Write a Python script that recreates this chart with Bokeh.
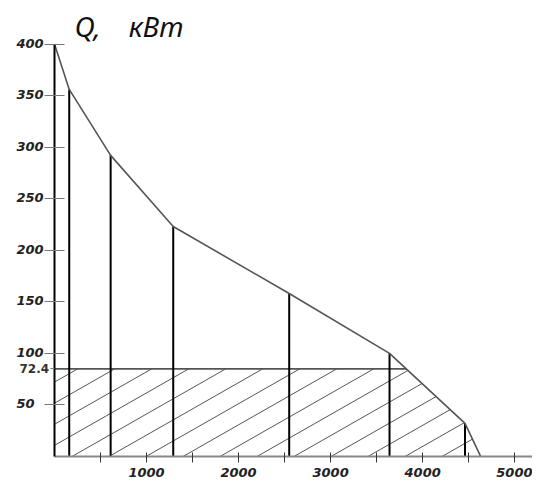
import numpy as np
from bokeh.plotting import figure
from bokeh.models import Range1d, LinearAxis, FixedTicker, Label, ColumnDataSource
from bokeh.core.properties import value
from bokeh.embed import file_html
from bokeh.resources import INLINE

# ---- data ----
hours = [0, 160, 610, 1290, 2550, 3640, 4460, 4630]          # x, h
load_kw = [400, 356, 292, 223, 158, 100, 32, 0]               # Q, kW
base_level_drawn = 85          # where the base-load line is drawn in the picture
base_level_label = "72.4"      # its label
y_ticks = [50, 100, 150, 200, 250, 300, 350, 400]
y_tick_labels = ["50", "100", "150", "200", "250", "300", "350", "400"]
x_ticks = [1000, 2000, 3000, 4000, 5000]
x_minor_ticks = [500, 1500, 2500, 3500, 4500]
title_text = "Q,\u2003кВт"

W, H = 532, 481
# pixel mapping: x_px = 54 + 0.09204*x ; y_px = 455.9 - 1.031*Q
x_lo, x_hi = -586.7, 5193.4
y_lo, y_hi = -24.3, 442.2

p = figure(width=W, height=H, output_backend="svg", toolbar_location=None,
           x_range=Range1d(x_lo, x_hi), y_range=Range1d(y_lo, y_hi),
           x_axis_location=None, y_axis_location=None, min_border=0)
p.outline_line_color = None
p.grid.visible = False
p.background_fill_color = "white"

FONT = value("DejaVu Sans")

# ---- hatch lines (computed from the data boundary) ----
sx = W / (x_hi - x_lo)
sy = H / (y_hi - y_lo)
slope_px = 0.57
k = slope_px * sx / sy
spacing = 37 / sx
phase = 1397
grid = np.linspace(0, hours[-1], 6000)
upper = np.minimum(np.interp(grid, hours, load_kw), base_level_drawn)
hx0, hy0, hx1, hy1 = [], [], [], []
for n in range(-20, 20):
    x0 = phase + n * spacing
    if x0 >= hours[-1] or x0 <= -base_level_drawn / k:
        continue
    xs = max(0.0, x0)
    ys = k * (xs - x0)
    line = k * (grid - x0)
    ok = (grid >= xs) & (line >= upper)
    if not ok.any():
        continue
    i = int(np.argmax(ok))
    if i == 0:
        continue
    d0 = line[i - 1] - upper[i - 1]
    d1 = line[i] - upper[i]
    t = d0 / (d0 - d1) if d0 != d1 else 0
    xe = grid[i - 1] + t * (grid[i] - grid[i - 1])
    ye = k * (xe - x0)
    hx0.append(xs); hy0.append(ys); hx1.append(xe); hy1.append(ye)
p.segment(x0=hx0, y0=hy0, x1=hx1, y1=hy1, line_color="#555555", line_width=1)

# ---- base-load line ----
cross_x = float(np.interp(-base_level_drawn, [-v for v in load_kw], hours))
p.segment(x0=[0], y0=[base_level_drawn], x1=[cross_x], y1=[base_level_drawn],
          line_color="#555555", line_width=1.8)

# ---- vertical lines at each step ----
vsrc = ColumnDataSource(dict(x=hours[1:-1], y0=[0] * (len(hours) - 2), y1=load_kw[1:-1]))
p.segment(x0="x", y0="y0", x1="x", y1="y1", source=vsrc, line_color="black", line_width=2)

# ---- load curve ----
p.line(hours, load_kw, line_color="#555555", line_width=1.6)

# ---- axes ----
yax = LinearAxis(fixed_location=0, bounds=(0, 400))
yax.ticker = FixedTicker(ticks=y_ticks, minor_ticks=[base_level_drawn])
yax.axis_line_color = "black"
yax.axis_line_width = 2
yax.major_tick_in = 10
yax.major_tick_out = 10
yax.major_tick_line_color = "#777777"
yax.minor_tick_in = 0
yax.minor_tick_out = 4
yax.minor_tick_line_color = "#777777"
yax.major_label_text_font_size = "0px"
yax.major_label_text_alpha = 0
p.add_layout(yax, "left")

xax = LinearAxis(fixed_location=0, bounds=(0, x_hi))
xax.ticker = FixedTicker(ticks=x_ticks, minor_ticks=x_minor_ticks)
xax.axis_line_color = "#888888"
xax.axis_line_width = 2
xax.major_tick_in = 4
xax.major_tick_out = 6
xax.minor_tick_in = 4
xax.minor_tick_out = 6
xax.major_tick_line_color = "#333333"
xax.minor_tick_line_color = "#333333"
xax.major_label_text_font = "DejaVu Sans"
xax.major_label_text_font_style = "bold italic"
xax.major_label_text_font_size = "13px"
xax.major_label_standoff = 6
xax.major_label_text_color = "#222222"
p.add_layout(xax, "below")

# ---- y tick labels (sit above their ticks, as in the picture) ----
ysrc = ColumnDataSource(dict(x=[0] * len(y_ticks), y=y_ticks, t=y_tick_labels))
p.text(x="x", y="y", text="t", source=ysrc, x_offset=-38, y_offset=-1,
       text_align="left", text_baseline="alphabetic", text_font=FONT,
       text_font_style="bold italic", text_font_size="13px", text_color="#222222")

p.text(x=[0], y=[base_level_drawn], text=[base_level_label], x_offset=-35,
       text_align="left", text_baseline="middle", text_font=FONT,
       text_font_style="bold", text_font_size="12px", text_color="#333333")

# ---- title ----
p.add_layout(Label(x=74, y=456, x_units="screen", y_units="screen", text=title_text,
                   text_font="Noto Sans", text_font_style="italic",
                   text_font_size="28px", text_baseline="alphabetic", text_color="#111111"))

open("out.html", "w").write(file_html(p, INLINE))
